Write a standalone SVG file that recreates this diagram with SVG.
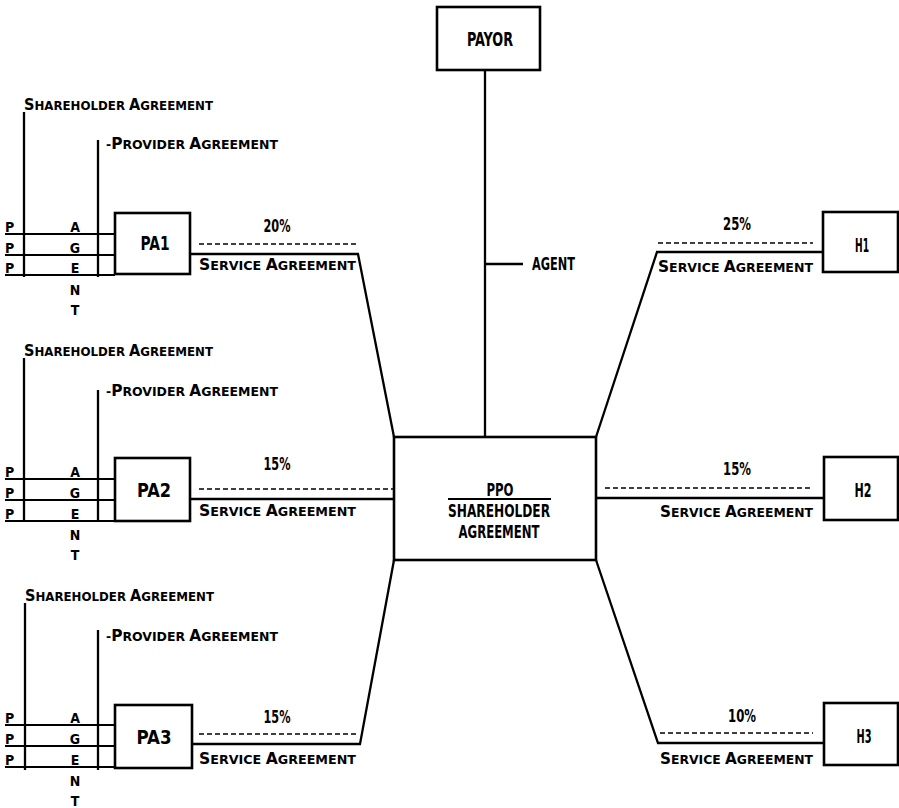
<svg xmlns="http://www.w3.org/2000/svg" width="899" height="808" viewBox="0 0 899 808">
<style>
.t{font-family:"DejaVu Sans Condensed","DejaVu Sans","Liberation Sans",sans-serif;font-stretch:condensed;font-weight:bold;fill:#000}
.lbl{font-size:20px}
.ppo{font-size:17px}
.pct{font-size:17px}
.sc{font-size:13px}
.cap{font-size:16px}
.ltr{font-size:14px}
.ln{stroke:#000;stroke-width:2.3;fill:none}
.thin{stroke:#000;stroke-width:1.8;fill:none}
.box{fill:#fff;stroke:#000;stroke-width:2.6}
.dash{stroke:#000;stroke-width:1.6;stroke-dasharray:5 3;fill:none}
</style>
<rect width="899" height="808" fill="#fff"/>

<g id="connectors">
  <polyline class="ln" points="485,70 485,437"/>
  <line class="ln" x1="486" y1="264" x2="523" y2="264"/>
  <polyline class="ln" points="190,254 358,254 394,437"/>
  <polyline class="ln" points="190,499 394,499"/>
  <polyline class="ln" points="192,744 360,744 394,560"/>
  <polyline class="ln" points="823,252 657,252 596,437"/>
  <polyline class="ln" points="596,498 824,498"/>
  <polyline class="ln" points="824,743 658,743 596,560"/>
  <line class="dash" x1="199" y1="244" x2="356" y2="244"/>
  <line class="dash" x1="199" y1="489" x2="393" y2="489"/>
  <line class="dash" x1="199" y1="734" x2="356" y2="734"/>
  <line class="dash" x1="658" y1="243" x2="813" y2="243"/>
  <line class="dash" x1="605" y1="488" x2="813" y2="488"/>
  <line class="dash" x1="660" y1="733" x2="813" y2="733"/>
  <text class="t pct" x="532" y="270" textLength="43" lengthAdjust="spacingAndGlyphs">AGENT</text>
  <text class="t pct" x="277" y="232" text-anchor="middle" textLength="27" lengthAdjust="spacingAndGlyphs">20%</text>
  <text class="t pct" x="277" y="470" text-anchor="middle" textLength="27" lengthAdjust="spacingAndGlyphs">15%</text>
  <text class="t pct" x="277" y="723" text-anchor="middle" textLength="27" lengthAdjust="spacingAndGlyphs">15%</text>
  <text class="t pct" x="737" y="230" text-anchor="middle" textLength="28" lengthAdjust="spacingAndGlyphs">25%</text>
  <text class="t pct" x="737" y="475" text-anchor="middle" textLength="28" lengthAdjust="spacingAndGlyphs">15%</text>
  <text class="t pct" x="742" y="722" text-anchor="middle" textLength="28" lengthAdjust="spacingAndGlyphs">10%</text>
  <text class="t sc" x="199" y="270" textLength="157" lengthAdjust="spacingAndGlyphs"><tspan class="cap">S</tspan>ERVICE <tspan class="cap">A</tspan>GREEMENT</text>
  <text class="t sc" x="199" y="516" textLength="157" lengthAdjust="spacingAndGlyphs"><tspan class="cap">S</tspan>ERVICE <tspan class="cap">A</tspan>GREEMENT</text>
  <text class="t sc" x="199" y="764" textLength="157" lengthAdjust="spacingAndGlyphs"><tspan class="cap">S</tspan>ERVICE <tspan class="cap">A</tspan>GREEMENT</text>
  <text class="t sc" x="658" y="272" textLength="155" lengthAdjust="spacingAndGlyphs"><tspan class="cap">S</tspan>ERVICE <tspan class="cap">A</tspan>GREEMENT</text>
  <text class="t sc" x="660" y="517" textLength="153" lengthAdjust="spacingAndGlyphs"><tspan class="cap">S</tspan>ERVICE <tspan class="cap">A</tspan>GREEMENT</text>
  <text class="t sc" x="660" y="764" textLength="153" lengthAdjust="spacingAndGlyphs"><tspan class="cap">S</tspan>ERVICE <tspan class="cap">A</tspan>GREEMENT</text>
</g>

<g id="pa1-agreements">
  <line class="ln" x1="24" y1="112" x2="24" y2="277"/>
  <line class="ln" x1="98" y1="140" x2="98" y2="277"/>
  <line class="thin" x1="5" y1="234" x2="115" y2="234"/>
  <line class="thin" x1="5" y1="255" x2="115" y2="255"/>
  <line class="thin" x1="5" y1="275" x2="115" y2="275"/>
  <text class="t sc" x="24" y="110" textLength="189" lengthAdjust="spacingAndGlyphs"><tspan class="cap">S</tspan>HAREHOLDER <tspan class="cap">A</tspan>GREEMENT</text>
  <text class="t sc" x="106" y="149" textLength="172" lengthAdjust="spacingAndGlyphs">-<tspan class="cap">P</tspan>ROVIDER <tspan class="cap">A</tspan>GREEMENT</text>
  <text class="t ltr" x="5" y="232">P</text>
  <text class="t ltr" x="5" y="253">P</text>
  <text class="t ltr" x="5" y="273">P</text>
  <text class="t ltr" x="75" y="232" text-anchor="middle">A</text>
  <text class="t ltr" x="75" y="253" text-anchor="middle">G</text>
  <text class="t ltr" x="75" y="273" text-anchor="middle">E</text>
  <text class="t ltr" x="75" y="295" text-anchor="middle">N</text>
  <text class="t ltr" x="75" y="315" text-anchor="middle">T</text>
</g>
<g id="pa2-agreements">
  <line class="ln" x1="24" y1="358" x2="24" y2="522"/>
  <line class="ln" x1="98" y1="390" x2="98" y2="522"/>
  <line class="thin" x1="5" y1="479" x2="115" y2="479"/>
  <line class="thin" x1="5" y1="500" x2="115" y2="500"/>
  <line class="thin" x1="5" y1="521" x2="115" y2="521"/>
  <text class="t sc" x="24" y="356" textLength="189" lengthAdjust="spacingAndGlyphs"><tspan class="cap">S</tspan>HAREHOLDER <tspan class="cap">A</tspan>GREEMENT</text>
  <text class="t sc" x="106" y="396" textLength="172" lengthAdjust="spacingAndGlyphs">-<tspan class="cap">P</tspan>ROVIDER <tspan class="cap">A</tspan>GREEMENT</text>
  <text class="t ltr" x="5" y="477">P</text>
  <text class="t ltr" x="5" y="498">P</text>
  <text class="t ltr" x="5" y="519">P</text>
  <text class="t ltr" x="75" y="477" text-anchor="middle">A</text>
  <text class="t ltr" x="75" y="498" text-anchor="middle">G</text>
  <text class="t ltr" x="75" y="519" text-anchor="middle">E</text>
  <text class="t ltr" x="75" y="540" text-anchor="middle">N</text>
  <text class="t ltr" x="75" y="560" text-anchor="middle">T</text>
</g>
<g id="pa3-agreements">
  <line class="ln" x1="25" y1="603" x2="25" y2="770"/>
  <line class="ln" x1="98" y1="630" x2="98" y2="770"/>
  <line class="thin" x1="5" y1="725" x2="115" y2="725"/>
  <line class="thin" x1="5" y1="746" x2="115" y2="746"/>
  <line class="thin" x1="5" y1="767" x2="115" y2="767"/>
  <text class="t sc" x="25" y="601" textLength="189" lengthAdjust="spacingAndGlyphs"><tspan class="cap">S</tspan>HAREHOLDER <tspan class="cap">A</tspan>GREEMENT</text>
  <text class="t sc" x="106" y="641" textLength="172" lengthAdjust="spacingAndGlyphs">-<tspan class="cap">P</tspan>ROVIDER <tspan class="cap">A</tspan>GREEMENT</text>
  <text class="t ltr" x="5" y="723">P</text>
  <text class="t ltr" x="5" y="744">P</text>
  <text class="t ltr" x="5" y="765">P</text>
  <text class="t ltr" x="75" y="723" text-anchor="middle">A</text>
  <text class="t ltr" x="75" y="744" text-anchor="middle">G</text>
  <text class="t ltr" x="75" y="765" text-anchor="middle">E</text>
  <text class="t ltr" x="75" y="786" text-anchor="middle">N</text>
  <text class="t ltr" x="75" y="806" text-anchor="middle">T</text>
</g>

<g id="payor">
  <rect class="box" x="437" y="7" width="103" height="63"/>
  <text class="t lbl" x="490" y="46" text-anchor="middle" textLength="46" lengthAdjust="spacingAndGlyphs">PAYOR</text>
</g>
<g id="ppo">
  <rect class="box" x="394" y="437" width="202" height="123"/>
  <text class="t ppo" x="500" y="496" text-anchor="middle" textLength="27" lengthAdjust="spacingAndGlyphs">PPO</text>
  <line x1="448" y1="499" x2="551" y2="499" stroke="#000" stroke-width="1.8"/>
  <text class="t ppo" x="499" y="517" text-anchor="middle" textLength="102" lengthAdjust="spacingAndGlyphs">SHAREHOLDER</text>
  <text class="t ppo" x="499" y="538" text-anchor="middle" textLength="81" lengthAdjust="spacingAndGlyphs">AGREEMENT</text>
</g>
<g id="pa1">
  <rect class="box" x="115" y="213" width="75" height="61"/>
  <text class="t lbl" x="155" y="250" text-anchor="middle" textLength="29" lengthAdjust="spacingAndGlyphs">PA1</text>
</g>
<g id="pa2">
  <rect class="box" x="115" y="458" width="75" height="63"/>
  <text class="t lbl" x="154" y="497" text-anchor="middle" textLength="34" lengthAdjust="spacingAndGlyphs">PA2</text>
</g>
<g id="pa3">
  <rect class="box" x="115" y="705" width="77" height="63"/>
  <text class="t lbl" x="154" y="744" text-anchor="middle" textLength="35" lengthAdjust="spacingAndGlyphs">PA3</text>
</g>
<g id="h1">
  <rect class="box" x="823" y="212" width="75" height="60"/>
  <text class="t lbl" x="862" y="252" text-anchor="middle" textLength="14" lengthAdjust="spacingAndGlyphs">H1</text>
</g>
<g id="h2">
  <rect class="box" x="824" y="457" width="74" height="63"/>
  <text class="t lbl" x="863" y="497" text-anchor="middle" textLength="17" lengthAdjust="spacingAndGlyphs">H2</text>
</g>
<g id="h3">
  <rect class="box" x="824" y="703" width="74" height="62"/>
  <text class="t lbl" x="864" y="743" text-anchor="middle" textLength="15" lengthAdjust="spacingAndGlyphs">H3</text>
</g>
</svg>
